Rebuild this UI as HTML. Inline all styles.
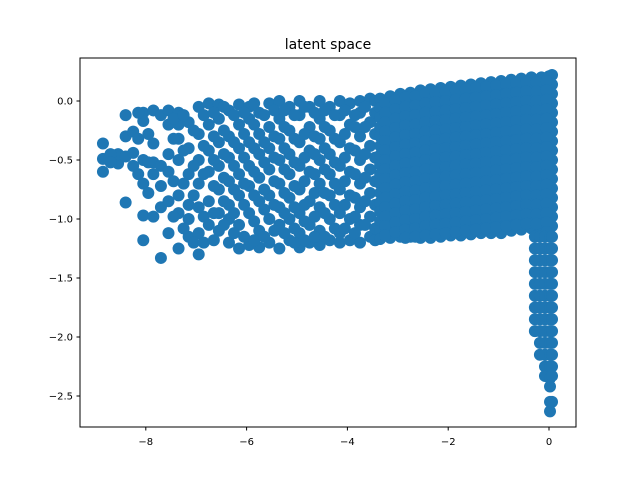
<!DOCTYPE html>
<html><head><meta charset="utf-8"><style>
body{margin:0;background:#fff;}
svg{display:block;font-family:"DejaVu Sans","Liberation Sans",sans-serif;}
</style></head><body>
<svg id="chart" width="640" height="480" viewBox="0 0 640 480">
<rect width="640" height="480" fill="#fff"/>
<text x="328" y="49" text-anchor="middle" font-size="14" fill="#000">latent space</text>
<g id="marks"></g>
<rect x="80" y="58" width="496" height="369" fill="none" stroke="#000" stroke-width="1"/>
<g id="xaxis"></g>
<g id="yaxis"></g>
</svg>
<script>
const sparseX=[-8.85,-8.55,-8.4,-8.25,-8.05,-7.85,-7.7,-7.55,-7.35,-7.15,-6.95,-6.75,-6.55,-6.35,-6.15,-5.95,-5.75,-5.55,-5.35,-5.15,-4.95,-4.75,-4.55,-4.35,-4.15,-3.95,-3.75,-3.55];
const sparseY=[
[-0.36,-0.49,-0.6],
[-0.53,-0.45],
[-0.12,-0.3,-0.47,-0.86],
[-0.26,-0.55,-0.44],
[-0.1,-0.17,-0.5,-0.97,-1.18,-0.7],
[-0.08,-0.36,-0.52,-0.62,-0.98],
[-0.12,-0.55,-0.72,-0.9,-1.33],
[-0.08,-0.2,-0.45,-0.85,-1.12,-0.6],
[-0.1,-0.32,-0.5,-0.8,-0.95,-1.25,-0.2],
[-0.18,-0.4,-0.62,-0.88,-1.0,-1.15],
[-0.05,-0.28,-0.5,-0.7,-0.9,-1.3,-1.12],
[-0.02,-0.2,-0.42,-0.6,-0.85,-1.05],
[-0.03,-0.15,-0.35,-0.55,-0.75,-0.95,-1.1],
[-0.08,-0.3,-0.48,-0.68,-0.88,-1.0,-1.2],
[-0.03,-0.2,-0.4,-0.62,-0.8,-1.05,-1.25],
[-0.05,-0.15,-0.35,-0.55,-0.72,-0.95,-1.22],
[-0.1,-0.28,-0.45,-0.65,-0.85,-1.1,-1.24],
[-0.02,-0.22,-0.4,-0.58,-0.8,-1.0,-1.2],
[0.0,-0.15,-0.32,-0.5,-0.7,-0.9,-1.05,-1.25],
[-0.05,-0.25,-0.45,-0.62,-0.82,-1.0,-1.18],
[0.0,-0.12,-0.35,-0.55,-0.75,-0.95,-1.12,-1.24],
[-0.05,-0.22,-0.42,-0.6,-0.85,-1.05,-1.2],
[0.0,-0.15,-0.32,-0.5,-0.7,-0.9,-1.1,-1.22],
[-0.05,-0.25,-0.45,-0.62,-0.8,-1.0,-1.18],
[0.0,-0.12,-0.35,-0.55,-0.75,-0.95,-1.12,-1.2],
[-0.02,-0.2,-0.4,-0.6,-0.8,-1.0,-1.18],
[0.0,-0.1,-0.3,-0.5,-0.7,-0.9,-1.05,-1.2],
[0.02,-0.18,-0.38,-0.58,-0.78,-0.98,-1.15]
];
const sparse2X=[-8.7,-8.15,-7.95,-7.45,-7.25,-7.05,-6.85,-6.65,-6.45,-6.25,-6.05,-5.85,-5.65,-5.45,-5.25,-5.05,-4.85,-4.65,-4.45,-4.25,-4.05,-3.85,-3.65,-3.45];
const sparse2Y=[
[-0.45,-0.52],
[-0.32,-0.62,-0.1],
[-0.28,-0.78,-0.52],
[-0.32,-0.68,-0.98,-0.15],
[-0.12,-0.42,-0.7,-1.08],
[-0.25,-0.55,-0.8,-1.2],
[-0.12,-0.38,-0.62,-0.98,-1.2],
[-0.1,-0.3,-0.5,-0.72,-0.95,-1.18],
[-0.05,-0.25,-0.45,-0.65,-0.85,-1.05],
[-0.12,-0.35,-0.55,-0.75,-0.95,-1.12],
[-0.1,-0.28,-0.48,-0.7,-0.88,-1.15],
[-0.02,-0.2,-0.4,-0.6,-0.8,-1.02,-1.18],
[-0.12,-0.35,-0.52,-0.75,-0.92,-1.15],
[-0.08,-0.3,-0.48,-0.68,-0.88,-1.1],
[-0.08,-0.22,-0.4,-0.58,-0.78,-0.95,-1.12],
[-0.12,-0.32,-0.52,-0.72,-0.9,-1.08,-1.2],
[-0.05,-0.28,-0.48,-0.68,-0.88,-1.02,-1.18],
[-0.1,-0.3,-0.45,-0.62,-0.78,-0.98,-1.15],
[-0.08,-0.22,-0.4,-0.58,-0.78,-0.95,-1.15],
[-0.12,-0.32,-0.52,-0.7,-0.88,-1.08],
[-0.08,-0.28,-0.48,-0.68,-0.88,-1.08],
[-0.12,-0.22,-0.42,-0.62,-0.82,-0.98,-1.12],
[-0.05,-0.22,-0.45,-0.65,-0.85,-1.05],
[0.0,-0.1,-0.28,-0.48,-0.68,-0.88,-1.08,-1.18]
];
const denseX=[-3.35,-3.15,-2.95,-2.75,-2.55,-2.35,-2.15,-1.95,-1.75,-1.55,-1.35,-1.15,-0.95,-0.75,-0.55,-0.35,-0.15,0.0,0.06];
const denseY=[
[0.02,-0.06,-0.14,-0.22,-0.3,-0.38,-0.46,-0.54,-0.62,-0.7,-0.78,-0.86,-0.94,-1.02,-1.1,-1.17],
[0.04,-0.04,-0.12,-0.2,-0.28,-0.36,-0.44,-0.52,-0.6,-0.68,-0.76,-0.84,-0.92,-1.0,-1.08,-1.16],
[0.06,-0.02,-0.1,-0.18,-0.26,-0.34,-0.42,-0.5,-0.58,-0.66,-0.74,-0.82,-0.9,-0.98,-1.06,-1.15],
[0.07,-0.01,-0.09,-0.17,-0.25,-0.33,-0.41,-0.49,-0.57,-0.65,-0.73,-0.81,-0.89,-0.97,-1.05,-1.15],
[0.09,0.01,-0.07,-0.15,-0.23,-0.31,-0.39,-0.47,-0.55,-0.63,-0.71,-0.79,-0.87,-0.95,-1.03,-1.11,-1.16],
[0.1,0.02,-0.06,-0.14,-0.22,-0.3,-0.38,-0.46,-0.54,-0.62,-0.7,-0.78,-0.86,-0.94,-1.02,-1.1,-1.16],
[0.11,0.03,-0.05,-0.13,-0.21,-0.29,-0.37,-0.45,-0.53,-0.61,-0.69,-0.77,-0.85,-0.93,-1.01,-1.09,-1.15],
[0.12,0.04,-0.04,-0.12,-0.2,-0.28,-0.36,-0.44,-0.52,-0.6,-0.68,-0.76,-0.84,-0.92,-1.0,-1.08,-1.14],
[0.13,0.05,-0.03,-0.11,-0.19,-0.27,-0.35,-0.43,-0.51,-0.59,-0.67,-0.75,-0.83,-0.91,-0.99,-1.07,-1.14],
[0.14,0.06,-0.02,-0.1,-0.18,-0.26,-0.34,-0.42,-0.5,-0.58,-0.66,-0.74,-0.82,-0.9,-0.98,-1.06,-1.13],
[0.15,0.07,-0.01,-0.09,-0.17,-0.25,-0.33,-0.41,-0.49,-0.57,-0.65,-0.73,-0.81,-0.89,-0.97,-1.05,-1.12],
[0.16,0.08,0.0,-0.08,-0.16,-0.24,-0.32,-0.4,-0.48,-0.56,-0.64,-0.72,-0.8,-0.88,-0.96,-1.04,-1.12],
[0.17,0.09,0.01,-0.07,-0.15,-0.23,-0.31,-0.39,-0.47,-0.55,-0.63,-0.71,-0.79,-0.87,-0.95,-1.03,-1.12],
[0.18,0.1,0.02,-0.06,-0.14,-0.22,-0.3,-0.38,-0.46,-0.54,-0.62,-0.7,-0.78,-0.86,-0.94,-1.02,-1.1],
[0.19,0.11,0.03,-0.05,-0.13,-0.21,-0.29,-0.37,-0.45,-0.53,-0.61,-0.69,-0.77,-0.85,-0.93,-1.01,-1.09],
[0.2,0.12,0.04,-0.04,-0.12,-0.2,-0.28,-0.36,-0.44,-0.52,-0.6,-0.68,-0.76,-0.84,-0.92,-1.0,-1.08],
[0.2,0.12,0.04,-0.04,-0.12,-0.2,-0.28,-0.36,-0.44,-0.52,-0.6,-0.68,-0.76,-0.84,-0.92,-1.0,-1.08],
[0.21,0.13,0.05,-0.03,-0.11,-0.19,-0.27,-0.35,-0.43,-0.51,-0.59,-0.67,-0.75,-0.83,-0.91,-0.99,-1.07],
[0.22,0.14,0.06,-0.02,-0.1,-0.18,-0.26,-0.34,-0.42,-0.5,-0.58,-0.66,-0.74,-0.82,-0.9,-0.98,-1.06]
];
const dense2X=[-3.25,-3.05,-2.85,-2.65,-2.45,-2.25,-2.05,-1.85,-1.65,-1.45,-1.25,-1.05,-0.85,-0.65,-0.45,-0.25,-0.05];
const dense2Y=[
[-0.02,-0.1,-0.18,-0.26,-0.34,-0.42,-0.5,-0.58,-0.66,-0.74,-0.82,-0.9,-0.98,-1.06,-1.14],
[0.01,-0.07,-0.15,-0.23,-0.31,-0.39,-0.47,-0.55,-0.63,-0.71,-0.79,-0.87,-0.95,-1.03,-1.11],
[0.03,-0.05,-0.13,-0.21,-0.29,-0.37,-0.45,-0.53,-0.61,-0.69,-0.77,-0.85,-0.93,-1.01,-1.09,-1.16],
[0.04,-0.04,-0.12,-0.2,-0.28,-0.36,-0.44,-0.52,-0.6,-0.68,-0.76,-0.84,-0.92,-1.0,-1.08,-1.15],
[0.06,-0.02,-0.1,-0.18,-0.26,-0.34,-0.42,-0.5,-0.58,-0.66,-0.74,-0.82,-0.9,-0.98,-1.06,-1.14],
[0.07,-0.01,-0.09,-0.17,-0.25,-0.33,-0.41,-0.49,-0.57,-0.65,-0.73,-0.81,-0.89,-0.97,-1.05,-1.13],
[0.08,0.0,-0.08,-0.16,-0.24,-0.32,-0.4,-0.48,-0.56,-0.64,-0.72,-0.8,-0.88,-0.96,-1.04,-1.12],
[0.09,0.01,-0.07,-0.15,-0.23,-0.31,-0.39,-0.47,-0.55,-0.63,-0.71,-0.79,-0.87,-0.95,-1.03,-1.11],
[0.1,0.02,-0.06,-0.14,-0.22,-0.3,-0.38,-0.46,-0.54,-0.62,-0.7,-0.78,-0.86,-0.94,-1.02,-1.1],
[0.11,0.03,-0.05,-0.13,-0.21,-0.29,-0.37,-0.45,-0.53,-0.61,-0.69,-0.77,-0.85,-0.93,-1.01,-1.09],
[0.12,0.04,-0.04,-0.12,-0.2,-0.28,-0.36,-0.44,-0.52,-0.6,-0.68,-0.76,-0.84,-0.92,-1.0,-1.08],
[0.13,0.05,-0.03,-0.11,-0.19,-0.27,-0.35,-0.43,-0.51,-0.59,-0.67,-0.75,-0.83,-0.91,-0.99,-1.07],
[0.14,0.06,-0.02,-0.1,-0.18,-0.26,-0.34,-0.42,-0.5,-0.58,-0.66,-0.74,-0.82,-0.9,-0.98,-1.06],
[0.15,0.07,-0.01,-0.09,-0.17,-0.25,-0.33,-0.41,-0.49,-0.57,-0.65,-0.73,-0.81,-0.89,-0.97,-1.05],
[0.16,0.08,0.0,-0.08,-0.16,-0.24,-0.32,-0.4,-0.48,-0.56,-0.64,-0.72,-0.8,-0.88,-0.96,-1.04],
[0.16,0.08,0.0,-0.08,-0.16,-0.24,-0.32,-0.4,-0.48,-0.56,-0.64,-0.72,-0.8,-0.88,-0.96,-1.04],
[0.17,0.09,0.01,-0.07,-0.15,-0.23,-0.31,-0.39,-0.47,-0.55,-0.63,-0.71,-0.79,-0.87,-0.95,-1.03,-1.11]
];
const tailX=[-0.28,-0.18,-0.08,0.02,0.06];
const tailY=[
[-1.15,-1.25,-1.35,-1.45,-1.55,-1.65,-1.75,-1.85,-1.95],
[-1.15,-1.25,-1.35,-1.45,-1.55,-1.65,-1.75,-1.85,-1.95,-2.05,-2.15],
[-1.15,-1.25,-1.35,-1.45,-1.55,-1.65,-1.75,-1.85,-1.95,-2.05,-2.15,-2.25,-2.33],
[-1.15,-1.25,-1.35,-1.45,-1.55,-1.65,-1.75,-1.85,-1.95,-2.05,-2.15,-2.25,-2.35,-2.42,-2.55,-2.63],
[-1.15,-1.25,-1.35,-1.45,-1.55,-1.65,-1.75,-1.85,-1.95,-2.05,-2.15,-2.25,-2.33,-2.55]
];
const xTicks=[-8,-6,-4,-2,0];
const xTickLabels=["−8","−6","−4","−2","0"];
const yTicks=[0,-0.5,-1,-1.5,-2,-2.5];
const yTickLabels=["0.0","−0.5","−1.0","−1.5","−2.0","−2.5"];

const NS="http://www.w3.org/2000/svg";
function sx(x){return 549+(x-0)*50.4;}
function sy(y){return 101-y*118;}
const marks=document.getElementById('marks');
function plotColumns(xs,ys){
  xs.forEach((x,i)=>{ys[i].forEach(y=>{
    const c=document.createElementNS(NS,'circle');
    c.setAttribute('cx',sx(x));c.setAttribute('cy',sy(y));c.setAttribute('r',6);
    c.setAttribute('fill','#1f77b4');
    
    
    marks.appendChild(c);
  });});
}
plotColumns(sparseX,sparseY);
plotColumns(sparse2X,sparse2Y);
plotColumns(denseX,denseY);
plotColumns(dense2X,dense2Y);
plotColumns(tailX,tailY);

const xa=document.getElementById('xaxis');
xTicks.forEach((t,i)=>{
  const l=document.createElementNS(NS,'line');
  l.setAttribute('x1',sx(t));l.setAttribute('x2',sx(t));l.setAttribute('y1',427);l.setAttribute('y2',430.5);l.setAttribute('stroke','#000');
  
  
  xa.appendChild(l);
  const tx=document.createElementNS(NS,'text');
  tx.setAttribute('x',sx(t));tx.setAttribute('y',445);tx.setAttribute('text-anchor','middle');tx.setAttribute('font-size','10');
  tx.textContent=xTickLabels[i];
  
  
  xa.appendChild(tx);
});
const ya=document.getElementById('yaxis');
yTicks.forEach((t,i)=>{
  const l=document.createElementNS(NS,'line');
  l.setAttribute('x1',76.5);l.setAttribute('x2',80);l.setAttribute('y1',sy(t));l.setAttribute('y2',sy(t));l.setAttribute('stroke','#000');
  
  
  ya.appendChild(l);
  const tx=document.createElementNS(NS,'text');
  tx.setAttribute('x',73);tx.setAttribute('y',sy(t)+3.5);tx.setAttribute('text-anchor','end');tx.setAttribute('font-size','10');
  tx.textContent=yTickLabels[i];
  
  
  ya.appendChild(tx);
});
</script>
</body></html>
